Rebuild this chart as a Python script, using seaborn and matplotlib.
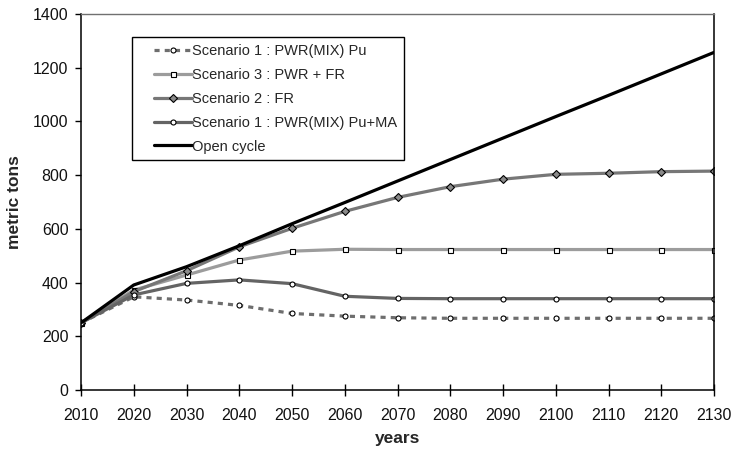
import numpy as np
import pandas as pd
import seaborn as sns
import matplotlib
matplotlib.use("Agg")
import matplotlib.pyplot as plt
from matplotlib.lines import Line2D
from matplotlib.legend_handler import HandlerLine2D

# values (metric tons per decade)
years = [2010, 2020, 2030, 2040, 2050, 2060, 2070, 2080, 2090, 2100, 2110, 2120, 2130]
open_cycle = [250, 391, 459, 537, 619, 698, 778, 858, 938, 1018, 1097, 1177, 1257]
scen2_fr = [250, 366, 444, 533, 602, 665, 717, 757, 785, 803, 807, 813, 815]
scen3_pwr_fr = [250, 372, 428, 484, 517, 524, 523, 523, 523, 523, 523, 523, 523]
scen1_pu_ma = [250, 354, 397, 410, 396, 349, 341, 340, 340, 340, 340, 340, 340]
scen1_pu = [250, 347, 335, 315, 285, 275, 269, 267, 267, 267, 267, 267, 267]

labels = ["Scenario 1 : PWR(MIX) Pu", "Scenario 3 : PWR + FR", "Scenario 2 : FR",
          "Scenario 1 : PWR(MIX) Pu+MA", "Open cycle"]

sns.set_style("ticks")
plt.rcParams['font.family'] = ['Liberation Sans', 'DejaVu Sans']

fig = plt.figure(figsize=(7.34, 4.54), dpi=100)
ax = fig.add_axes([81 / 734, 1 - 390 / 454, 633 / 734, 376 / 454])

# one entry per series: values, colour, marker, marker face, line style
series = [
    (scen1_pu, "#6e6e6e", "o", "white", (0, (1.6, 1.6))),
    (scen3_pwr_fr, "#9c9c9c", "s", "white", "-"),
    (scen2_fr, "#777777", "D", "#8a8a8a", "-"),
    (scen1_pu_ma, "#646464", "o", "white", "-"),
    (open_cycle, "black", None, "black", "-"),
]

for (vals, col, mk, mfc, ls), lab in zip(series, labels):
    df = pd.DataFrame({"year": years, "tons": vals})
    sns.lineplot(data=df, x="year", y="tons", ax=ax, color=col, linewidth=2.3,
                 linestyle=ls, marker=mk, markersize=3.6, markerfacecolor=mfc,
                 markeredgecolor="black", markeredgewidth=0.8, label=lab)

ax.set_xlim(2010, 2130)
ax.set_ylim(0, 1400)
ax.set_xticks(np.arange(2010, 2131, 10))
ax.set_yticks(np.arange(0, 1401, 200))
ax.tick_params(axis="x", direction="inout", length=8, width=1, labelsize=11.5, pad=9, colors="black")
ax.tick_params(axis="y", direction="out", length=4.5, width=1, labelsize=11.5, pad=4.5, colors="black")
ax.tick_params(axis="both", labelcolor="#111111")

for side in ["left", "bottom", "right"]:
    ax.spines[side].set_visible(True)
    ax.spines[side].set_color("black")
    ax.spines[side].set_linewidth(1.1)
ax.spines["top"].set_visible(True)
ax.spines["top"].set_color("#707070")
ax.spines["top"].set_linewidth(1.0)

ax.set_xlabel("years", fontsize=12.5, fontweight="bold", labelpad=6)
ax.set_ylabel("metric tons", fontsize=12.5, fontweight="bold", labelpad=8)

# handle offset from the frame like the original legend
leg = ax.legend(loc="upper left", bbox_to_anchor=(0.08, 0.938), fontsize=10.5,
                frameon=True, fancybox=False, framealpha=1, edgecolor="black",
                handlelength=3.7, handletextpad=0.0, labelspacing=0.68,
                borderpad=0.45, borderaxespad=0, numpoints=1,
                handler_map={Line2D: HandlerLine2D(xpad=1.1)})
leg.get_frame().set_linewidth(1.0)

fig.savefig("out.png", dpi=100)
